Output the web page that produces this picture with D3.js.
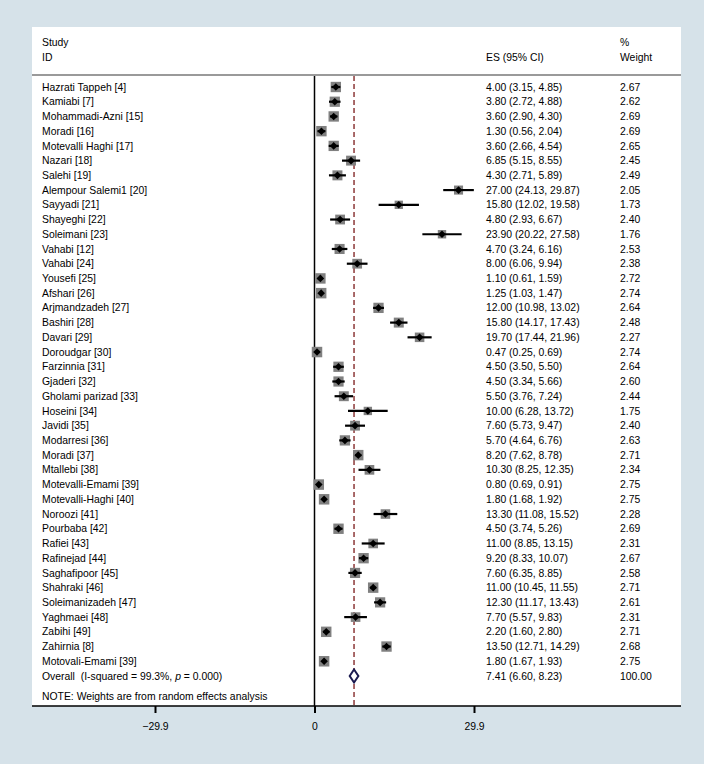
<!DOCTYPE html>
<html>
<head>
<meta charset="utf-8">
<script src="https://cdn.jsdelivr.net/npm/d3@7"></script>
<style>
  body { margin: 0; background: rgb(214,226,233); }
  text { font-family: "Liberation Sans", Arial, sans-serif; font-size: 10.4px; fill: #000; white-space: pre; }
</style>
</head>
<body>
<div id="chart"></div>
<script>
const studies = [
  'Hazrati Tappeh [4]', 'Kamiabi [7]', 'Mohammadi-Azni [15]', 'Moradi [16]',
  'Motevalli Haghi [17]', 'Nazari [18]', 'Salehi [19]', 'Alempour Salemi1 [20]',
  'Sayyadi [21]', 'Shayeghi [22]', 'Soleimani [23]', 'Vahabi [12]', 'Vahabi [24]',
  'Yousefi [25]', 'Afshari [26]', 'Arjmandzadeh [27]', 'Bashiri [28]', 'Davari [29]',
  'Doroudgar [30]', 'Farzinnia [31]', 'Gjaderi [32]', 'Gholami parizad [33]',
  'Hoseini [34]', 'Javidi [35]', 'Modarresi [36]', 'Moradi [37]', 'Mtallebi [38]',
  'Motevalli-Emami [39]', 'Motevalli-Haghi [40]', 'Noroozi [41]', 'Pourbaba [42]',
  'Rafiei [43]', 'Rafinejad [44]', 'Saghafipoor [45]', 'Shahraki [46]',
  'Soleimanizadeh [47]', 'Yaghmaei [48]', 'Zabihi [49]', 'Zahirnia [8]',
  'Motovali-Emami [39]'
];
const es = [4.00, 3.80, 3.60, 1.30, 3.60, 6.85, 4.30, 27.00, 15.80, 4.80, 23.90, 4.70, 8.00,
  1.10, 1.25, 12.00, 15.80, 19.70, 0.47, 4.50, 4.50, 5.50, 10.00, 7.60, 5.70, 8.20, 10.30,
  0.80, 1.80, 13.30, 4.50, 11.00, 9.20, 7.60, 11.00, 12.30, 7.70, 2.20, 13.50, 1.80];
const lower = [3.15, 2.72, 2.90, 0.56, 2.66, 5.15, 2.71, 24.13, 12.02, 2.93, 20.22, 3.24, 6.06,
  0.61, 1.03, 10.98, 14.17, 17.44, 0.25, 3.50, 3.34, 3.76, 6.28, 5.73, 4.64, 7.62, 8.25,
  0.69, 1.68, 11.08, 3.74, 8.85, 8.33, 6.35, 10.45, 11.17, 5.57, 1.60, 12.71, 1.67];
const upper = [4.85, 4.88, 4.30, 2.04, 4.54, 8.55, 5.89, 29.87, 19.58, 6.67, 27.58, 6.16, 9.94,
  1.59, 1.47, 13.02, 17.43, 21.96, 0.69, 5.50, 5.66, 7.24, 13.72, 9.47, 6.76, 8.78, 12.35,
  0.91, 1.92, 15.52, 5.26, 13.15, 10.07, 8.85, 11.55, 13.43, 9.83, 2.80, 14.29, 1.93];
const weights = [2.67, 2.62, 2.69, 2.69, 2.65, 2.45, 2.49, 2.05, 1.73, 2.40, 1.76, 2.53, 2.38,
  2.72, 2.74, 2.64, 2.48, 2.27, 2.74, 2.64, 2.60, 2.44, 1.75, 2.40, 2.63, 2.71, 2.34,
  2.75, 2.75, 2.28, 2.69, 2.31, 2.67, 2.58, 2.71, 2.61, 2.31, 2.71, 2.68, 2.75];
const overall = { es: 7.41, lo: 6.60, hi: 8.23, i2: '99.3%', p: '0.000', weight: '100.00' };
const tickValues = [-29.9, 0, 29.9];

const width = 704, height = 764;
const panel = { left: 32, right: 681, top: 27, bottom: 706 };
const col = { study: 42, ci: 486, weight: 620 };

const svg = d3.select('#chart').append('svg')
  .attr('width', width)
  .attr('height', height);

svg.append('rect')
  .attr('width', width).attr('height', height)
  .attr('fill', 'rgb(214,226,233)');

svg.append('rect')
  .attr('x', panel.left).attr('y', panel.top)
  .attr('width', panel.right - panel.left).attr('height', panel.bottom - panel.top)
  .attr('fill', '#fff');

const x = d3.scaleLinear()
  .domain([-29.9, 29.9])
  .range([155, 474]);

// 40 studies + overall row
const y = d3.scalePoint()
  .domain(d3.range(studies.length + 1))
  .range([87, 676]);

const fmt = d3.format('.2f');
const rows = studies.map((name, i) => ({
  name, es: es[i], lo: lower[i], hi: upper[i], w: weights[i], i
}));

// header
const header = svg.append('g');
header.append('text').attr('x', col.study).attr('y', 46).text('Study');
header.append('text').attr('x', col.study).attr('y', 61).text('ID');
header.append('text').attr('x', col.ci).attr('y', 61).text('ES (95% CI)');
header.append('text').attr('x', col.weight).attr('y', 46).text('%');
header.append('text').attr('x', col.weight).attr('y', 61).text('Weight');

svg.append('line')
  .attr('x1', panel.left).attr('x2', panel.right)
  .attr('y1', 75).attr('y2', 75)
  .attr('stroke', '#9a9a9a').attr('stroke-width', 1.8);

// no-effect line
svg.append('line')
  .attr('x1', x(0)).attr('x2', x(0))
  .attr('y1', 76).attr('y2', panel.bottom)
  .attr('stroke', '#000').attr('stroke-width', 1.5);

// overall estimate line
svg.append('line')
  .attr('x1', x(overall.es)).attr('x2', x(overall.es))
  .attr('y1', 76).attr('y2', panel.bottom)
  .attr('stroke', '#7b1a1a').attr('stroke-width', 1.3)
  .attr('stroke-dasharray', '5,3');

// study markers
const maxW = d3.max(weights);
const box = d3.scaleSqrt().domain([0, maxW]).range([0, 10.5]);

const g = svg.append('g').selectAll('g').data(rows).enter().append('g');

g.append('rect')
  .attr('x', d => x(d.es) - box(d.w) / 2)
  .attr('y', d => y(d.i) - box(d.w) / 2)
  .attr('width', d => box(d.w))
  .attr('height', d => box(d.w))
  .attr('fill', '#808080');

g.append('line')
  .attr('x1', d => x(d.lo)).attr('x2', d => x(d.hi))
  .attr('y1', d => y(d.i)).attr('y2', d => y(d.i))
  .attr('stroke', '#000').attr('stroke-width', 2.2);

g.append('path')
  .attr('transform', d => `translate(${x(d.es)},${y(d.i)})`)
  .attr('d', 'M0,-3.8L3.8,0L0,3.8L-3.8,0Z')
  .attr('fill', '#000');

g.append('text').attr('x', col.study).attr('y', d => y(d.i) + 3.6).text(d => d.name);
g.append('text').attr('x', col.ci).attr('y', d => y(d.i) + 3.6)
  .text(d => `${fmt(d.es)} (${fmt(d.lo)}, ${fmt(d.hi)})`);
g.append('text').attr('x', col.weight).attr('y', d => y(d.i) + 3.6).text(d => fmt(d.w));

// overall row
const oy = y(studies.length);
svg.append('path')
  .attr('d', `M${x(overall.lo)},${oy}L${x(overall.es)},${oy - 6.5}L${x(overall.hi)},${oy}L${x(overall.es)},${oy + 6.5}Z`)
  .attr('fill', '#fff').attr('stroke', '#1a1a50').attr('stroke-width', 2);

const ot = svg.append('text').attr('x', col.study).attr('y', oy + 3.6);
ot.append('tspan').text('Overall\u00a0\u00a0(I-squared = ' + overall.i2 + ', ');
ot.append('tspan').attr('font-style', 'italic').text('p');
ot.append('tspan').text(' = ' + overall.p + ')');
svg.append('text').attr('x', col.ci).attr('y', oy + 3.6)
  .text(`${fmt(overall.es)} (${fmt(overall.lo)}, ${fmt(overall.hi)})`);
svg.append('text').attr('x', col.weight).attr('y', oy + 3.6).text(overall.weight);

svg.append('text').attr('x', col.study).attr('y', 700)
  .text('NOTE: Weights are from random effects analysis');

// x axis
const axis = svg.append('g')
  .attr('transform', `translate(0,${panel.bottom})`)
  .call(d3.axisBottom(x).tickValues(tickValues).tickSize(7).tickPadding(10)
    .tickFormat(d => d === 0 ? '0' : d3.format('.1f')(d).replace('-', '\u2212')));
axis.select('.domain').remove();
axis.selectAll('.tick line').attr('stroke', '#000').attr('stroke-width', 2);
axis.selectAll('.tick text').attr('font-size', 10.4).attr('font-family', '"Liberation Sans", Arial, sans-serif');
axis.append('line')
  .attr('x1', panel.left).attr('x2', panel.right)
  .attr('y1', 0).attr('y2', 0)
  .attr('stroke', '#000').attr('stroke-width', 1.5);
</script>
</body>
</html>
